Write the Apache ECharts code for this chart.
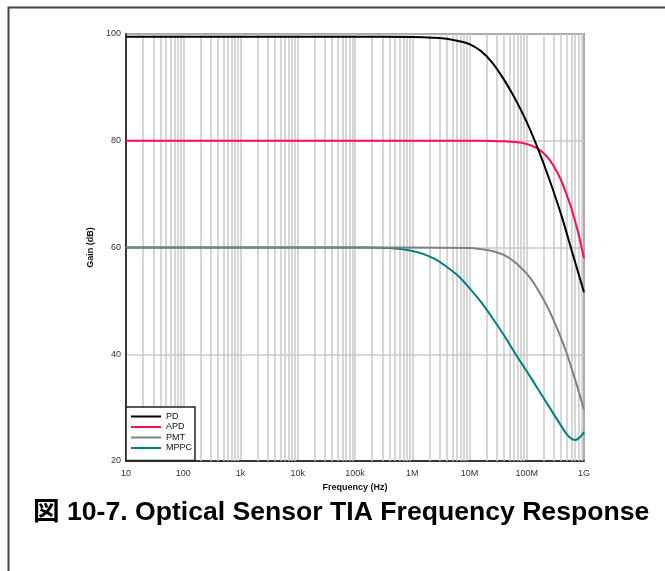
<!DOCTYPE html>
<html lang="ja">
<head>
    <meta charset="UTF-8">
    <title>Optical Sensor TIA Frequency Response</title>
    <script type="text/javascript" src="https://cdn.jsdelivr.net/npm/echarts@6/dist/echarts.min.js"></script>
    <style>
        html, body { margin: 0; padding: 0; background: #fff; }
    </style>
</head>
<body>
<div id="tia-chart" style="width: 665px;height: 571px"></div>
<script type="text/javascript">
    // frequency (Hz), gain (dB)
    var pdData = [[10, 99.5], [1e3, 99.5], [1e5, 99.5], [1e6, 99.45], [1.585e6, 99.4], [2.512e6, 99.3],
        [3.981e6, 99.1], [6.31e6, 98.7], [1e7, 98.1], [1.585e7, 96.8], [2.512e7, 94.6], [3.981e7, 91.5],
        [6.31e7, 87.8], [1e8, 83.5], [1.585e8, 78.4], [2.512e8, 72.6], [3.981e8, 66.2], [6.31e8, 58.9],
        [1e9, 51.6]];
    var apdData = [[10, 80], [1e5, 80], [1e6, 80], [1e7, 80], [2.512e7, 79.97], [3.981e7, 79.9],
        [6.31e7, 79.75], [1e8, 79.4], [1.259e8, 79.0], [1.585e8, 78.5], [1.995e8, 77.6], [2.512e8, 76.4],
        [3.162e8, 74.7], [3.981e8, 72.6], [5.012e8, 69.8], [6.31e8, 66.6], [7.943e8, 62.7], [1e9, 58.0]];
    var pmtData = [[10, 60], [1e5, 60], [1e6, 60], [1e7, 59.9], [1.585e7, 59.7], [2.512e7, 59.35],
        [3.981e7, 58.6], [6.31e7, 57.2], [1e8, 55.1], [1.259e8, 53.7], [1.585e8, 52.0], [1.995e8, 50.1],
        [2.512e8, 48.0], [3.162e8, 45.6], [3.981e8, 43.0], [5.012e8, 40.1], [6.31e8, 36.8],
        [7.943e8, 33.3], [1e9, 29.6]];
    var mppcData = [[10, 60], [1e3, 60], [1e5, 60], [1.585e5, 60], [2.512e5, 59.97], [3.981e5, 59.9],
        [6.31e5, 59.7], [1e6, 59.35], [1.585e6, 58.75], [2.512e6, 57.8], [3.981e6, 56.4], [6.31e6, 54.7],
        [1e7, 52.4], [1.585e7, 49.8], [2.512e7, 46.8], [3.981e7, 43.6], [6.31e7, 40.1], [1e8, 36.8],
        [1.585e8, 33.4], [2.512e8, 30.0], [3.981e8, 26.6], [5.012e8, 25.0], [6.31e8, 24.05],
        [7.079e8, 23.95], [7.943e8, 24.2], [8.913e8, 24.7], [1e9, 25.4]];

    var seriesNames = ['PD', 'APD', 'PMT', 'MPPC'];
    var seriesColors = ['#000000', '#ff0a55', '#808080', '#008080'];
    var xTickLabels = ['10', '100', '1k', '10k', '100k', '1M', '10M', '100M', '1G'];
    var yTicks = [20, 40, 60, 80, 100];

    // minor vertical grid (2..9 per decade)
    var minorGrid = [];
    for (var e = 1; e < 9; e++) {
        for (var m = 2; m <= 9; m++) {
            minorGrid.push({xAxis: m * Math.pow(10, e)});
        }
    }

    var font = 'Liberation Sans, Arial, sans-serif';
    var chart = echarts.init(document.getElementById('tia-chart'));
    var allData = [pdData, apdData, pmtData, mppcData];
    var series = [{
        name: 'grid-minor',
        type: 'line',
        data: [],
        silent: true,
        z: 1,
        markLine: {
            silent: true,
            symbol: 'none',
            label: {show: false},
            lineStyle: {color: '#c8c8c8', width: 1.5, type: 'solid'},
            data: minorGrid,
            animation: false
        }
    }];
    for (var i = 0; i < seriesNames.length; i++) {
        series.push({
            name: seriesNames[i],
            type: 'line',
            data: allData[i],
            smooth: 0.3,
            showSymbol: false,
            z: 5 + (seriesNames.length - i),
            lineStyle: {color: seriesColors[i], width: 2},
            itemStyle: {color: seriesColors[i]}
        });
    }

    var option = {
        animation: false,
        backgroundColor: '#fff',
        textStyle: {fontFamily: font},
        grid: {
            left: 126, top: 34, right: 81, bottom: 110,
            show: true, borderColor: '#222', borderWidth: 1.5
        },
        legend: {
            data: seriesNames,
            orient: 'vertical',
            left: 126,
            top: 407,
            z: 20,
            icon: 'rect',
            itemWidth: 30,
            itemHeight: 2,
            itemGap: 1.5,
            padding: [5, 3, 8, 5],
            backgroundColor: '#fff',
            borderColor: '#222',
            borderWidth: 1.5,
            textStyle: {fontSize: 9, color: '#111', fontFamily: font}
        },
        xAxis: {
            type: 'log',
            logBase: 10,
            min: 10,
            max: 1e9,
            name: 'Frequency (Hz)',
            nameLocation: 'middle',
            nameGap: 19,
            nameTextStyle: {fontSize: 9, fontWeight: 'bold', color: '#111'},
            axisLine: {lineStyle: {color: '#111', width: 1.5}},
            axisTick: {show: false},
            axisLabel: {
                fontSize: 9, color: '#333', margin: 8,
                formatter: function (v) {
                    return xTickLabels[Math.round(Math.log10(v)) - 1];
                }
            },
            splitLine: {show: true, lineStyle: {color: '#c8c8c8', width: 1.5}}
        },
        yAxis: {
            type: 'value',
            min: yTicks[0],
            max: yTicks[yTicks.length - 1],
            interval: 20,
            name: 'Gain (dB)',
            nameLocation: 'middle',
            nameGap: 25,
            nameTextStyle: {fontSize: 9, fontWeight: 'bold', color: '#111'},
            axisLine: {show: true, lineStyle: {color: '#111', width: 1.5}},
            axisTick: {show: false},
            axisLabel: {fontSize: 9, color: '#333', margin: 5},
            splitLine: {show: true, lineStyle: {color: '#c8c8c8', width: 1.5}}
        },
        graphic: [{
            type: 'rect',
            left: 6, top: 5,
            shape: {width: 700, height: 600},
            style: {fill: 'none', stroke: '#444', lineWidth: 2},
            silent: true
        }, {
            type: 'text',
            left: 33, top: 499,
            style: {
                text: '図 10-7. Optical Sensor TIA Frequency Response',
                fill: '#000',
                font: 'bold 26.6px "Liberation Sans", Arial, "Noto Sans CJK JP", sans-serif'
            }
        }],
        series: series
    };
    chart.setOption(option);
</script>
</body>
</html>
